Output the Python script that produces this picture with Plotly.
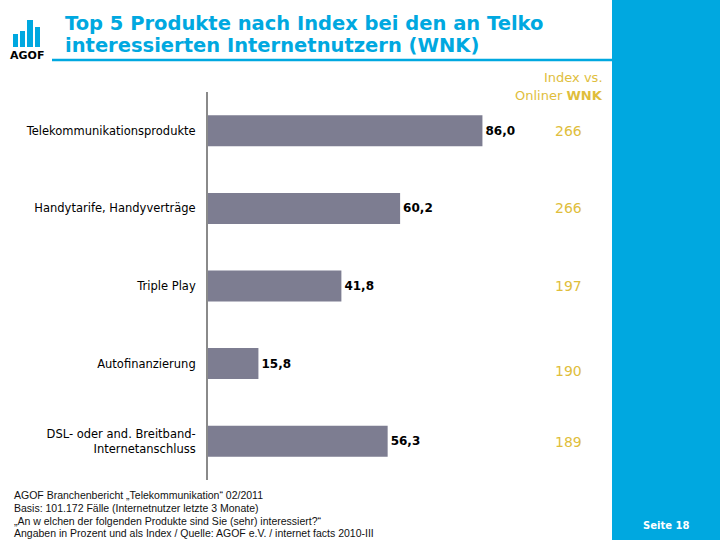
import plotly.graph_objects as go

categories = ["Telekommunikationsprodukte", "Handytarife, Handyverträge", "Triple Play",
              "Autofinanzierung", "DSL- oder and. Breitband-<br>Internetanschluss"]
values = [86.0, 60.2, 41.8, 15.8, 56.3]
index_values = [266, 266, 197, 190, 189]

title_lines = ["Top 5 Produkte nach Index bei den an Telko",
               "interessierten Internetnutzern (WNK)"]
footnote = ["AGOF Branchenbericht „Telekommunikation“ 02/2011",
            "Basis: 101.172 Fälle (Internetnutzer letzte 3 Monate)",
            "„An w elchen der folgenden Produkte sind Sie (sehr) interessiert?“",
            "Angaben in Prozent und als Index / Quelle: AGOF e.V. / internet facts 2010-III"]

W, H = 720, 540
BLUE = "#00A8E0"
GOLD = "#E0BE3C"
BAR = "#7D7D91"

def px(x):
    return x / W

def py(y):
    return 1 - y / H

fig = go.Figure()
fig.add_trace(go.Bar(
    y=categories, x=values, orientation="h",
    marker=dict(color=BAR, line=dict(width=0)),
    text=[f"{v:.1f}".replace(".", ",") for v in values],
    textposition="outside",
    textfont=dict(family="DejaVu Sans", size=12, color="black", weight="bold"),
    cliponaxis=False,
    hoverinfo="skip",
))

shapes = []
annotations = []

# right blue panel
shapes.append(dict(type="rect", xref="paper", yref="paper", x0=px(612), x1=1, y0=0, y1=1,
                   fillcolor=BLUE, line=dict(width=0), layer="below"))
# title underline
shapes.append(dict(type="line", xref="paper", yref="paper", x0=px(52), x1=px(612),
                   y0=py(60), y1=py(60), line=dict(color=BLUE, width=2.5)))
# logo bars
logo = [(13, 18, 34), (20, 25, 31), (27, 33, 20), (35, 40, 27)]
for x0, x1, top in logo:
    shapes.append(dict(type="rect", xref="paper", yref="paper", x0=px(x0), x1=px(x1),
                       y0=py(47), y1=py(top), fillcolor=BLUE, line=dict(width=0)))
annotations.append(dict(text="<b>AGOF</b>", xref="paper", yref="paper", x=px(27), y=py(55),
                        showarrow=False, xanchor="center", yanchor="middle",
                        font=dict(family="DejaVu Sans", size=11, color="black")))

# title
for i, line in enumerate(title_lines):
    annotations.append(dict(text=f"<b>{line}</b>", xref="paper", yref="paper", x=px(63),
                            y=py(23 + i * 23), showarrow=False, xanchor="left", yanchor="middle",
                            font=dict(family="DejaVu Sans", size=19.5, color=BLUE)))

# index header
annotations.append(dict(text="Index vs.", xref="paper", yref="paper", x=px(605), y=py(77),
                        showarrow=False, xanchor="right", yanchor="middle",
                        font=dict(family="DejaVu Sans", size=13, color=GOLD)))
annotations.append(dict(text="Onliner <b>WNK</b>", xref="paper", yref="paper", x=px(605), y=py(95),
                        showarrow=False, xanchor="right", yanchor="middle",
                        font=dict(family="DejaVu Sans", size=13, color=GOLD)))

# index values
shifts = [0, 0, 0, -7, -1]
for cat, idx, s in zip(categories, index_values, shifts):
    annotations.append(dict(text=str(idx), xref="paper", yref="y", x=px(568), y=cat,
                            yshift=s, showarrow=False, xanchor="center", yanchor="middle",
                            font=dict(family="DejaVu Sans", size=14, color=GOLD)))

# footnote
for i, line in enumerate(footnote):
    annotations.append(dict(text=line, xref="paper", yref="paper", x=px(12), y=py(495 + i * 12.8),
                            showarrow=False, xanchor="left", yanchor="middle",
                            font=dict(family="Liberation Sans", size=10.5, color="#111111")))

annotations.append(dict(text="<b>Seite 18</b>", xref="paper", yref="paper", x=px(666), y=py(525),
                        showarrow=False, xanchor="center", yanchor="middle",
                        font=dict(family="DejaVu Sans", size=10, color="white")))

fig.update_layout(
    width=W, height=H,
    margin=dict(l=0, r=0, t=0, b=0),
    paper_bgcolor="white", plot_bgcolor="rgba(0,0,0,0)",
    showlegend=False,
    bargap=0.6,
    shapes=shapes,
    annotations=annotations,
    xaxis=dict(domain=[px(208), px(612)], range=[0, 126.6], visible=False, fixedrange=True),
    yaxis=dict(domain=[py(480), py(92)], range=[len(categories) - 0.5, -0.5],
               showline=True, linecolor="#8A8A8A", linewidth=2, showgrid=False,
               zeroline=False, ticks="", ticklabelstandoff=8,
               tickfont=dict(family="DejaVu Sans", size=11.5, color="black"),
               fixedrange=True),
)

fig.write_html("out.html", config={"displayModeBar": False},
               post_script="document.body.style.margin='0px';document.body.style.overflow='hidden';")
